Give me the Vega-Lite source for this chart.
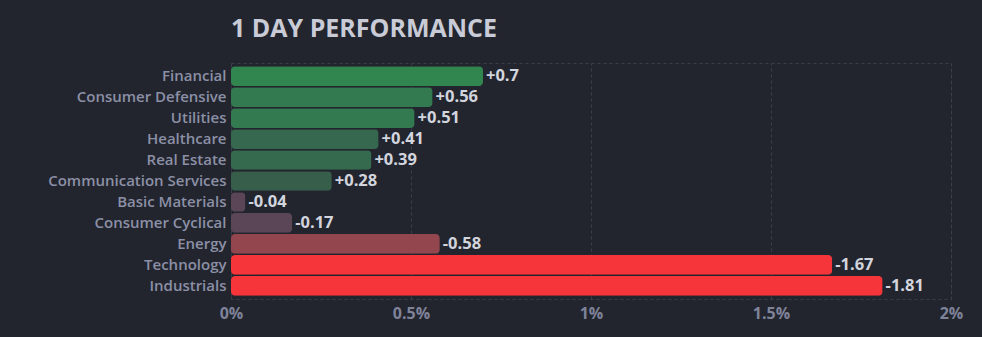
{
  "$schema": "https://vega.github.io/schema/vega-lite/v6.json",
  "width": 720,
  "height": 236,
  "autosize": {"type": "none"},
  "padding": {"left": 231, "top": 63, "right": 31, "bottom": 38},
  "background": "#22252e",
  "config": {
    "view": {"stroke": "#3a3e4a", "strokeDash": [3, 3], "strokeWidth": 1},
    "font": "Open Sans"
  },
  "title": {
    "text": "1 DAY PERFORMANCE",
    "anchor": "start",
    "frame": "group",
    "fontSize": 25,
    "fontWeight": "bold",
    "color": "#c9cbd6",
    "font": "Open Sans",
    "baseline": "alphabetic",
    "offset": 1
  },
  "data": {
    "values": [
      {"Sector": "Financial", "Change": 0.7},
      {"Sector": "Consumer Defensive", "Change": 0.56},
      {"Sector": "Utilities", "Change": 0.51},
      {"Sector": "Healthcare", "Change": 0.41},
      {"Sector": "Real Estate", "Change": 0.39},
      {"Sector": "Communication Services", "Change": 0.28},
      {"Sector": "Basic Materials", "Change": -0.04},
      {"Sector": "Consumer Cyclical", "Change": -0.17},
      {"Sector": "Energy", "Change": -0.58},
      {"Sector": "Technology", "Change": -1.67},
      {"Sector": "Industrials", "Change": -1.81}
    ]
  },
  "transform": [
    {"calculate": "abs(datum.Change)", "as": "Magnitude"},
    {"calculate": "(datum.Change > 0 ? '+' : '') + datum.Change", "as": "Label"}
  ],
  "encoding": {
    "y": {
      "field": "Sector",
      "type": "nominal",
      "sort": null,
      "scale": {"paddingInner": 0.06, "paddingOuter": 0.15},
      "axis": {
        "title": null,
        "domain": false,
        "ticks": false,
        "labelPadding": 5,
        "labelFontSize": 15,
        "labelLimit": 260,
        "labelColor": "#8c90a6",
        "labelFont": "Open Sans",
        "labelFontWeight": 600
      }
    },
    "x": {
      "field": "Magnitude",
      "type": "quantitative",
      "scale": {"domain": [0, 2]},
      "axis": {
        "title": null,
        "values": [0, 0.5, 1, 1.5, 2],
        "labelExpr": "datum.value + '%'",
        "labelFlush": false,
        "domain": false,
        "ticks": false,
        "grid": true,
        "gridColor": "#3a3e4a",
        "gridDash": [3, 3],
        "labelPadding": 6,
        "labelFontSize": 16,
        "labelColor": "#7f8399",
        "labelFont": "Open Sans",
        "labelFontWeight": "bold"
      }
    }
  },
  "layer": [
    {
      "mark": {"type": "bar", "cornerRadius": 4},
      "encoding": {
        "color": {
          "field": "Change",
          "type": "quantitative",
          "scale": {
            "domain": [-1.81, -1.67, -0.58, -0.17, -0.04, 0.28, 0.39, 0.41, 0.51, 0.56, 0.7],
            "range": ["#f6353a", "#f6353a", "#94464f", "#5a4656", "#5a4656", "#375e4b", "#366a4f", "#36684f", "#347a50", "#347a50", "#31854f"],
            "interpolate": "rgb"
          },
          "legend": null
        }
      }
    },
    {
      "mark": {"type": "text", "align": "left", "dx": 3, "fontSize": 16.5, "fontWeight": "bold", "color": "#d3d5de", "font": "Open Sans"},
      "encoding": {"text": {"field": "Label"}}
    }
  ]
}
